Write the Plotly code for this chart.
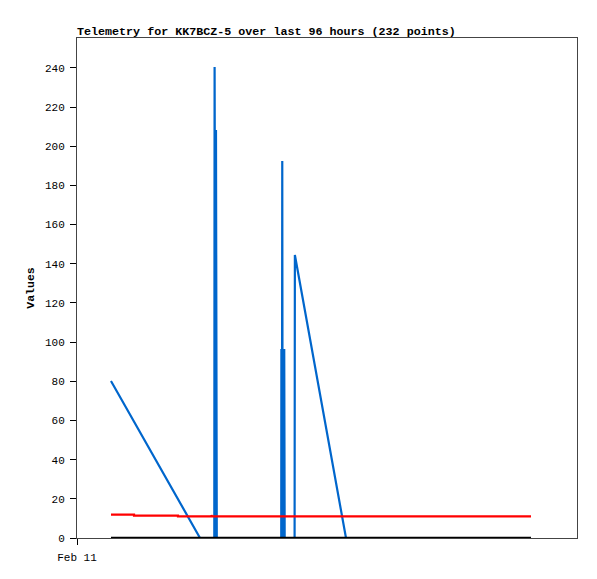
import plotly.graph_objects as go

# blue series (telemetry values)
blue_t = ["2024-02-11 07:46", "2024-02-12 04:07", "2024-02-12 07:23", "2024-02-12 07:27",
          "2024-02-12 07:41", "2024-02-12 07:46", "2024-02-12 07:57",
          "2024-02-12 22:41", "2024-02-12 22:43", "2024-02-12 22:50", "2024-02-12 22:55",
          "2024-02-12 23:00", "2024-02-12 23:08", "2024-02-12 23:15", "2024-02-12 23:22",
          "2024-02-12 23:28",
          "2024-02-13 01:44", "2024-02-13 01:48", "2024-02-13 13:29", "2024-02-15 07:46"]
blue_v = [80.2, 0, 0, 240.5, 0, 208.3, 0,
          0, 96.5, 0, 192.5, 0, 96.5, 0, 96.5,
          0,
          0, 144.5, 0, 0]

# red series
red_t = ["2024-02-11 07:46", "2024-02-11 13:02", "2024-02-11 13:02", "2024-02-11 23:05",
         "2024-02-11 23:05", "2024-02-12 06:40", "2024-02-12 06:45", "2024-02-12 06:55",
         "2024-02-15 07:46"]
red_v = [11.9, 11.9, 11.4, 11.4, 11.0, 11.0, 11.6, 11.0, 11.0]

# black series
black_t = ["2024-02-11 07:46", "2024-02-15 07:46"]
black_v = [0, 0]

x_range = ["2024-02-11 00:00", "2024-02-15 18:17"]
y_ticks = list(range(0, 241, 20))

mono = "Liberation Mono, DejaVu Sans Mono, monospace"

fig = go.Figure()
fig.add_trace(go.Scatter(x=blue_t, y=blue_v, mode="lines",
                         line=dict(color="#0066CC", width=2.2)))
fig.add_trace(go.Scatter(x=red_t, y=red_v, mode="lines",
                         line=dict(color="#FF0000", width=2.2)))
fig.add_trace(go.Scatter(x=black_t, y=black_v, mode="lines",
                         line=dict(color="#000000", width=2.5)))

# page body adds 8px offset, so margins are compensated
fig.update_layout(
    width=581, height=563,
    margin=dict(l=69, r=12, t=30, b=33, autoexpand=False),
    paper_bgcolor="white", plot_bgcolor="white",
    showlegend=False,
    font=dict(family=mono, size=11, color="black"),
    title=dict(text="<b>Telemetry for KK7BCZ-5 over last 96 hours (232 points)</b>",
               x=0, xanchor="left", xref="paper",
               y=1 - 23 / 563, yanchor="middle", yref="container",
               font=dict(family=mono, size=11.7, color="black")),
)
fig.update_xaxes(type="date", range=x_range, automargin=False,
                 tickvals=["2024-02-11 00:00"], ticktext=["Feb 11"],
                 ticks="outside", ticklen=6, tickcolor="black",
                 ticklabelstandoff=3,
                 showgrid=False, zeroline=False,
                 showline=True, linecolor="#444", linewidth=1, mirror=True,
                 tickfont=dict(family=mono, size=11))
fig.update_yaxes(range=[0, 255.3], tickvals=y_ticks, automargin=False,
                 ticks="outside", ticklen=6, tickcolor="black",
                 ticklabelstandoff=3,
                 showgrid=False, zeroline=False,
                 showline=True, linecolor="#444", linewidth=1, mirror=True,
                 title=dict(text="<b>Values</b>", standoff=7,
                            font=dict(family=mono, size=11.5)),
                 tickfont=dict(family=mono, size=11))

fig.write_html("out.html")
